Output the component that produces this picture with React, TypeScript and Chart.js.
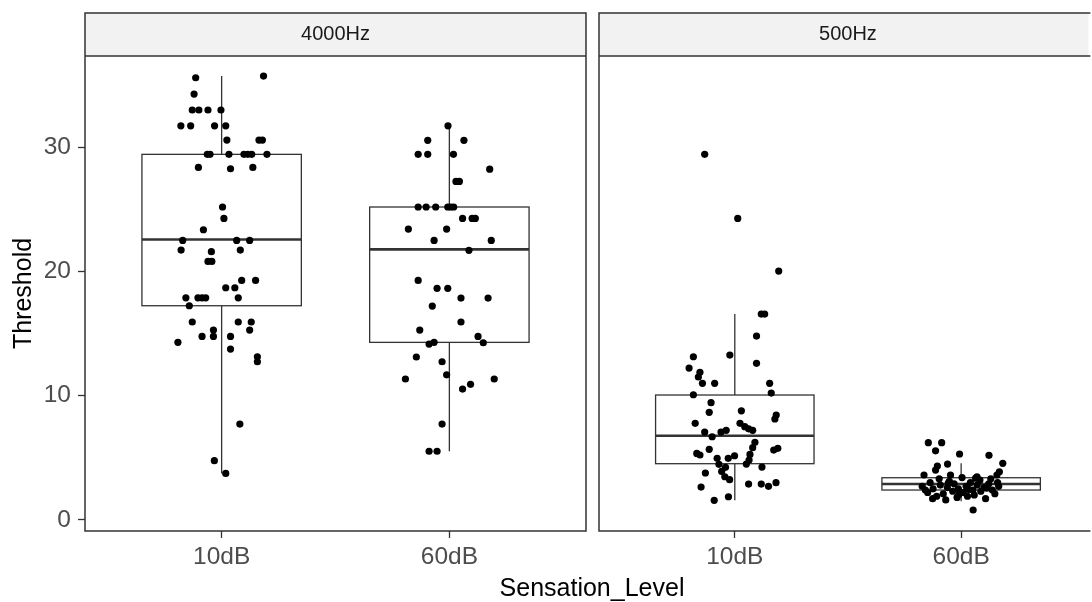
import React, { useEffect, useRef } from "react";
import { Chart, registerables } from "chart.js";

Chart.register(...registerables);

// ---------- data ----------
const panels = ["4000Hz", "500Hz"];
const categories = ["10dB", "60dB"];
const yTicks = [0, 10, 20, 30];
const xTitle = "Sensation_Level";
const yTitle = "Threshold";

// box stats: [lower whisker, Q1, median, Q3, upper whisker]
const box4000_10dB = [3.74, 17.24, 22.57, 29.43, 35.73];
const box4000_60dB = [5.52, 14.29, 21.78, 25.19, 31.73];
const box500_10dB = [1.57, 4.52, 6.77, 10.05, 16.57];
const box500_60dB = [1.5, 2.4, 2.88, 3.39, 4.55];

// jittered raw points: threshold values and horizontal jitter (category units)
const pts4000_10dB_values = [
  35.6, 35.73, 34.28, 33.0, 33.0, 33.0, 33.0, 31.73, 31.73, 31.73, 31.73, 30.58,
  30.58, 30.58, 29.43, 29.43, 29.43, 29.43, 29.43, 29.43, 29.43, 28.38, 28.27,
  28.38, 25.19, 24.27, 23.36, 22.5, 22.5, 22.5, 21.72, 21.59, 21.72, 20.81, 20.81,
  19.28, 19.28, 18.69, 18.69, 17.88, 17.88, 17.88, 17.88, 17.88, 17.24, 15.93,
  15.93, 15.93, 15.28, 15.28, 14.77, 14.77, 14.77, 14.29, 13.75, 13.13, 12.73,
  7.71, 4.76, 3.74,
];
const pts4000_10dB_jitter = [
  -0.114, 0.184, -0.121, -0.129, -0.1, -0.06, -0.003, -0.179, -0.136, -0.031,
  0.018, 0.023, 0.164, 0.179, -0.063, -0.051, 0.032, 0.098, 0.115, 0.132, 0.199,
  -0.102, 0.039, 0.137, 0.004, 0.01, -0.08, -0.171, 0.066, 0.123, -0.178, -0.045,
  0.082, -0.06, -0.043, 0.088, 0.149, 0.018, 0.058, -0.157, -0.104, -0.086, -0.07,
  0.073, -0.142, -0.129, 0.073, 0.13, -0.036, 0.123, -0.086, -0.036, 0.039,
  -0.192, 0.039, 0.157, 0.157, 0.08, -0.032, 0.018,
];

const pts4000_60dB_values = [
  31.73, 30.56, 30.56, 29.43, 29.43, 29.43, 28.24, 27.25, 27.25, 25.19, 25.19,
  25.19, 25.19, 25.19, 25.19, 24.27, 24.27, 24.27, 23.41, 23.41, 22.5, 22.5, 21.7,
  19.28, 18.64, 18.64, 17.86, 17.86, 17.21, 15.93, 15.28, 14.77, 14.26, 14.15,
  14.29, 13.11, 12.73, 11.68, 11.34, 11.34, 10.53, 10.91, 7.71, 5.52, 5.52,
];
const pts4000_60dB_jitter = [
  -0.006, -0.095, 0.064, -0.137, -0.095, 0.018, 0.177, 0.029, 0.044, -0.137,
  -0.102, -0.06, -0.007, 0.006, 0.019, 0.058, 0.1, 0.114, -0.18, -0.012, -0.067,
  0.184, 0.086, -0.137, -0.054, -0.007, 0.051, 0.17, -0.075, 0.051, -0.13, 0.126,
  0.149, -0.089, -0.067, -0.145, -0.032, -0.012, -0.193, 0.197, 0.058, 0.093,
  -0.032, -0.089, -0.054,
];

const pts500_10dB_values = [
  29.43, 24.27, 20.03, 16.57, 16.57, 14.8, 13.13, 13.27, 12.6, 12.22, 11.88, 11.5,
  10.99, 10.99, 10.99, 10.07, 10.21, 9.43, 8.66, 8.78, 8.44, 8.12, 7.77, 7.77, 7.5,
  7.33, 7.21, 7.07, 6.69, 7.07, 7.21, 6.24, 5.81, 5.68, 5.22, 5.35, 5.62, 5.76,
  4.95, 4.95, 5.16, 5.27, 4.81, 4.47, 4.23, 4.49, 4.25, 3.77, 3.9, 3.47, 3.23,
  2.64, 2.88, 2.88, 2.7, 2.99, 1.57, 1.86,
];
const pts500_10dB_jitter = [
  -0.133, 0.013, 0.194, 0.117, 0.132, 0.096, -0.183, -0.022, 0.096, -0.202,
  -0.154, -0.161, -0.143, -0.089, 0.154, -0.183, 0.161, -0.105, -0.113, 0.029,
  0.183, 0.177, -0.175, 0.023, 0.044, 0.061, 0.079, -0.133, -0.1, -0.061, -0.038,
  0.089, 0.079, -0.113, -0.154, -0.168, 0.172, 0.19, -0.078, -0.029, -0.001,
  0.067, 0.063, -0.07, -0.041, 0.051, 0.12, -0.13, -0.058, -0.044, -0.023, -0.149,
  0.061, 0.117, 0.149, 0.182, -0.091, -0.028,
];

const pts500_60dB_values = [
  6.21, 6.21, 5.56, 5.3, 5.19, 4.55, 4.49, 4.33, 4.01, 3.87, 3.61, 3.61, 3.61,
  3.47, 0.79, 2.7, 2.2, 3.0, 2.5, 1.9, 3.3, 2.8, 2.1, 1.6, 2.6, 3.1, 2.3, 2.9, 1.8,
  2.5, 3.4, 2.2, 2.7, 1.9, 3.0, 2.4, 2.0, 2.8, 3.2, 2.3, 2.6, 1.7, 2.9, 3.3, 2.4,
  2.1, 3.0, 2.7, 2.4, 1.7, 2.05, 3.35, 2.55, 2.95, 2.45,
];
const pts500_60dB_jitter = [
  -0.145, -0.086, -0.113, -0.007, 0.123, 0.184, -0.06, -0.105, -0.113, 0.169,
  0.158, -0.164, -0.047, 0.07, 0.053, -0.172, -0.148, -0.137, -0.124, -0.108,
  -0.097, -0.092, -0.079, -0.068, -0.061, -0.052, -0.037, -0.031, -0.018, -0.012,
  0.004, 0.009, 0.022, 0.028, 0.041, 0.052, 0.058, 0.071, 0.083, 0.087, 0.101,
  0.108, 0.122, 0.131, 0.138, 0.149, 0.161, 0.166, -0.158, -0.126, -0.009, 0.064,
  0.113, -0.057, 0.033,
];

// ---------- styling ----------
const FONT = '"Liberation Sans", Arial, sans-serif';
const LINE = "#333333";

function toPoints(values: number[], jitter: number[], cat: number) {
  return values.map((v, i) => ({ x: cat + jitter[i], y: v }));
}

const facetPlugin = {
  id: "facet",
  beforeDatasetsDraw(chart: any, _args: any, opts: any) {
    const { ctx } = chart;
    const x = chart.scales.x;
    const y = chart.scales.y;
    ctx.save();
    (opts.boxes as number[][]).forEach((b, i) => {
      const c = i + 1;
      const xl = x.getPixelForValue(c - opts.boxWidth / 2);
      const xr = x.getPixelForValue(c + opts.boxWidth / 2);
      const xc = x.getPixelForValue(c);
      const [mn, q1, md, q3, mx] = b.map((v) => y.getPixelForValue(v));
      ctx.strokeStyle = LINE;
      ctx.lineWidth = 1.3;
      ctx.beginPath();
      ctx.moveTo(xc, q3);
      ctx.lineTo(xc, mx);
      ctx.moveTo(xc, q1);
      ctx.lineTo(xc, mn);
      ctx.stroke();
      ctx.fillStyle = "#ffffff";
      ctx.fillRect(xl, q3, xr - xl, q1 - q3);
      ctx.strokeRect(xl, q3, xr - xl, q1 - q3);
      ctx.lineWidth = 2.6;
      ctx.beginPath();
      ctx.moveTo(xl, md);
      ctx.lineTo(xr, md);
      ctx.stroke();
    });
    ctx.restore();
  },
  afterDraw(chart: any, _args: any, opts: any) {
    const { ctx, chartArea: ca } = chart;
    const x = chart.scales.x;
    const st = opts.stripTop;
    ctx.save();
    // strip
    ctx.fillStyle = "#F2F2F2";
    ctx.fillRect(ca.left, st, ca.right - ca.left, ca.top - st);
    ctx.strokeStyle = LINE;
    ctx.lineWidth = 1.5;
    ctx.beginPath();
    if (opts.openRight) {
      ctx.moveTo(ca.right + 2, st);
      ctx.lineTo(ca.left, st);
      ctx.lineTo(ca.left, ca.bottom);
      ctx.lineTo(ca.right + 2, ca.bottom);
      ctx.moveTo(ca.left, ca.top);
      ctx.lineTo(ca.right + 2, ca.top);
    } else {
      ctx.rect(ca.left, st, ca.right - ca.left, ca.bottom - st);
      ctx.moveTo(ca.left, ca.top);
      ctx.lineTo(ca.right, ca.top);
    }
    ctx.stroke();
    ctx.fillStyle = "#1A1A1A";
    ctx.font = `20px ${FONT}`;
    ctx.textAlign = "center";
    ctx.textBaseline = "middle";
    ctx.fillText(opts.label, x.getPixelForValue(1.5), (st + ca.top) / 2);
    if (opts.xTitle) {
      ctx.fillStyle = "#000000";
      ctx.font = `25px ${FONT}`;
      ctx.textBaseline = "alphabetic";
      ctx.fillText(opts.xTitle.text, opts.xTitle.x, opts.xTitle.y);
    }
    ctx.restore();
  },
};

function makeConfig(p: {
  label: string;
  box10: number[];
  box60: number[];
  pts10: { x: number; y: number }[];
  pts60: { x: number; y: number }[];
  showY: boolean;
  padLeft: number;
  padRight: number;
  xMax: number;
  openRight: boolean;
  withXTitle: boolean;
}) {
  const pointStyle = {
    pointRadius: 3.6,
    pointHoverRadius: 3.6,
    pointBackgroundColor: "#000000",
    pointBorderWidth: 0,
    showLine: false,
  };
  return {
    type: "scatter" as const,
    data: {
      datasets: [
        { data: p.pts10, ...pointStyle },
        { data: p.pts60, ...pointStyle },
      ],
    },
    options: {
      responsive: true,
      maintainAspectRatio: false,
      animation: false,
      events: [],
      layout: { padding: { left: p.padLeft, right: p.padRight, top: 56, bottom: 0 } },
      plugins: {
        legend: { display: false },
        tooltip: { enabled: false },
        facet: {
          boxes: [p.box10, p.box60],
          boxWidth: 0.7,
          stripTop: 13,
          label: p.label,
          openRight: p.openRight,
          xTitle: p.withXTitle ? { text: xTitle, x: 592, y: 596 } : null,
        },
      },
      scales: {
        x: {
          type: "linear",
          min: 0.4,
          max: p.xMax,
          afterBuildTicks: (s: any) => {
            s.ticks = categories.map((_, i) => ({ value: i + 1 }));
          },
          afterFit: (s: any) => {
            s.height = 71;
          },
          ticks: {
            callback: (v: any) => categories[Math.round(Number(v)) - 1] ?? "",
            font: { family: FONT, size: 24.5 },
            color: "#4D4D4D",
            padding: 5,
            autoSkip: false,
            maxRotation: 0,
          },
          grid: {
            drawOnChartArea: false,
            tickLength: 7,
            tickColor: LINE,
            tickWidth: 1.3,
          },
          border: { display: false },
        },
        y: {
          type: "linear",
          display: p.showY,
          min: -0.9,
          max: 37.35,
          afterBuildTicks: (s: any) => {
            s.ticks = yTicks.map((v) => ({ value: v }));
          },
          afterFit: (s: any) => {
            s.width = p.showY ? 85 : 0;
          },
          ticks: {
            font: { family: FONT, size: 24.5 },
            color: "#4D4D4D",
            padding: 7,
          },
          grid: {
            drawOnChartArea: false,
            tickLength: 7,
            tickColor: LINE,
            tickWidth: 1.3,
          },
          border: { display: false },
          title: {
            display: true,
            text: yTitle,
            color: "#000000",
            font: { family: FONT, size: 25 },
            padding: { top: 9, bottom: 0 },
          },
        },
      },
    },
    plugins: [facetPlugin],
  };
}

export default function App() {
  const refA = useRef<HTMLCanvasElement>(null);
  const refB = useRef<HTMLCanvasElement>(null);

  useEffect(() => {
    const a = new Chart(
      refA.current as HTMLCanvasElement,
      makeConfig({
        label: panels[0],
        box10: box4000_10dB,
        box60: box4000_60dB,
        pts10: toPoints(pts4000_10dB_values, pts4000_10dB_jitter, 1),
        pts60: toPoints(pts4000_60dB_values, pts4000_60dB_jitter, 2),
        showY: true,
        padLeft: 0,
        padRight: 506,
        xMax: 2.6,
        openRight: false,
        withXTitle: true,
      }) as any
    );
    const b = new Chart(
      refB.current as HTMLCanvasElement,
      makeConfig({
        label: panels[1],
        box10: box500_10dB,
        box60: box500_60dB,
        pts10: toPoints(pts500_10dB_values, pts500_10dB_jitter, 1),
        pts60: toPoints(pts500_60dB_values, pts500_60dB_jitter, 2),
        showY: false,
        padLeft: 599,
        padRight: 0,
        xMax: 0.4 + 493 / 228,
        openRight: true,
        withXTitle: false,
      }) as any
    );
    return () => {
      a.destroy();
      b.destroy();
    };
  }, []);

  const layer: React.CSSProperties = {
    position: "absolute",
    left: 0,
    top: 0,
    width: 1092,
    height: 602,
  };
  return (
    <div style={{ ...layer, background: "#ffffff", overflow: "hidden" }}>
      <div style={layer}>
        <canvas ref={refA} />
      </div>
      <div style={layer}>
        <canvas ref={refB} />
      </div>
    </div>
  );
}
